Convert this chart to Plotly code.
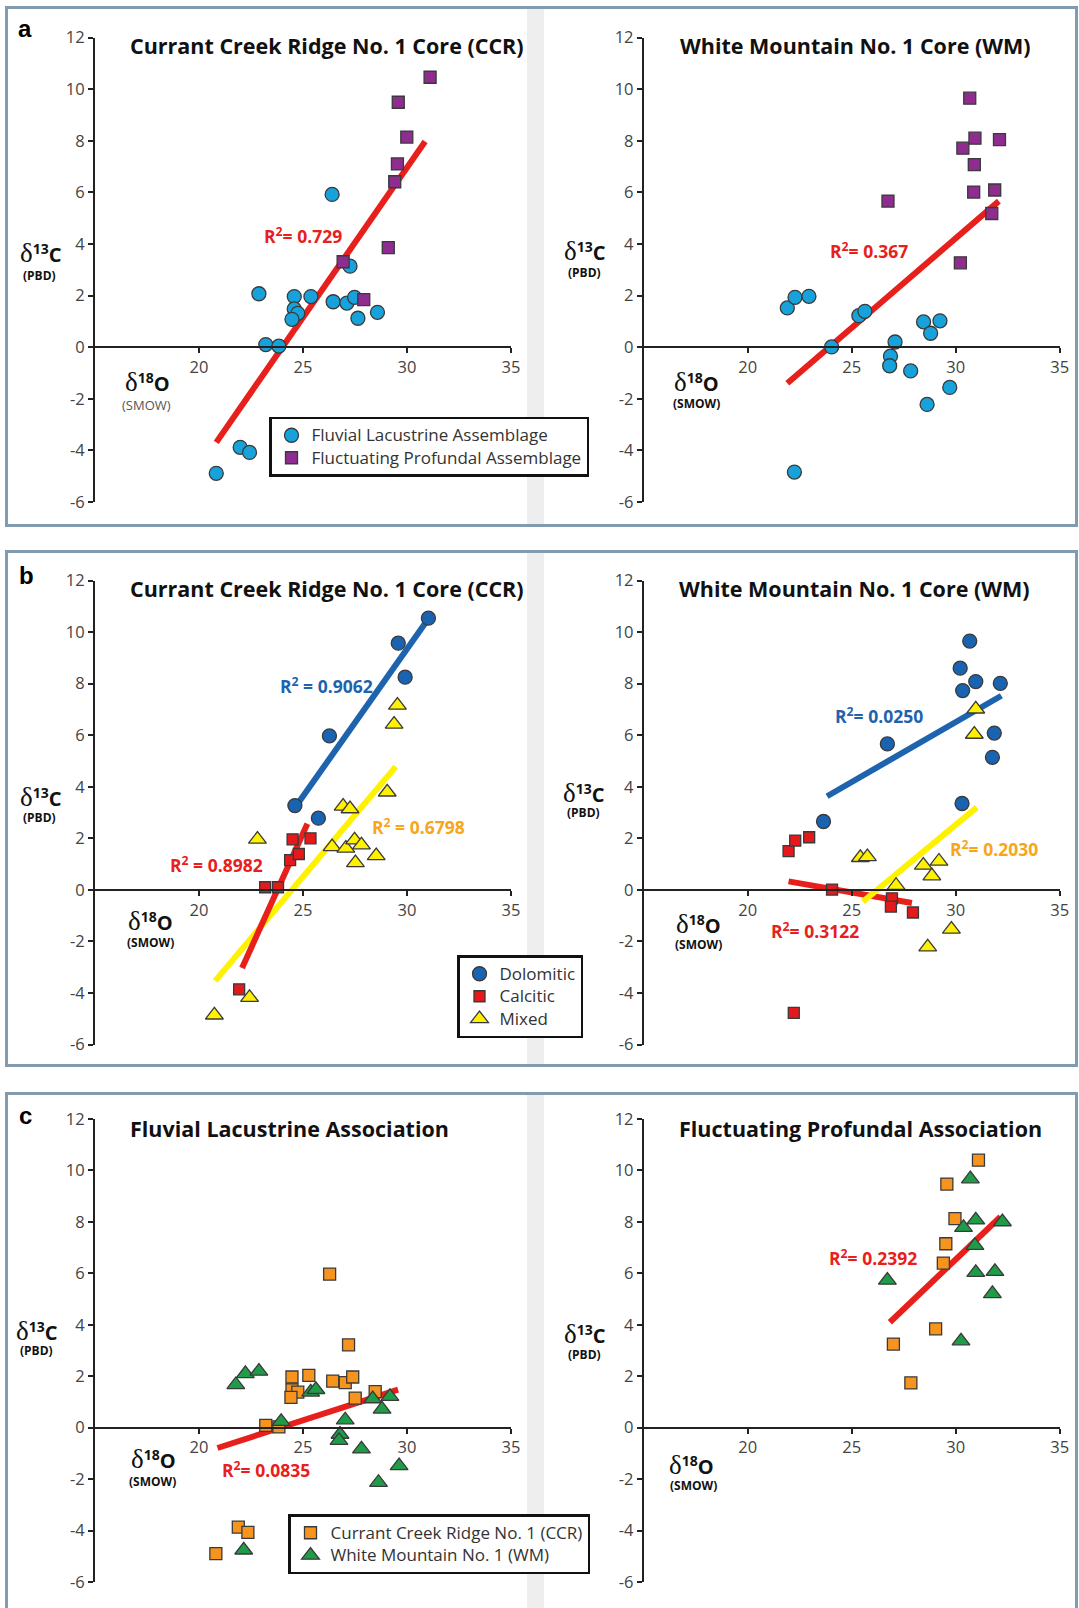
import plotly.graph_objects as go

W, H = 1079, 1608

# ------------------------------------------------------------------ data
# (a) Currant Creek Ridge core (CCR)
a_ccr_fl_x = [26.40, 22.88, 24.58, 25.38, 24.58, 24.75, 24.47, 26.45, 27.11, 27.48, 27.26, 27.64, 28.58, 23.21, 23.84, 21.98, 22.43, 20.83]
a_ccr_fl_y = [5.92, 2.07, 1.96, 1.96, 1.48, 1.31, 1.08, 1.76, 1.71, 1.93, 3.14, 1.12, 1.35, 0.10, 0.04, -3.88, -4.08, -4.89]
a_ccr_fp_x = [31.11, 29.58, 29.99, 29.54, 29.41, 29.10, 26.93, 27.92]
a_ccr_fp_y = [10.46, 9.49, 8.14, 7.10, 6.41, 3.86, 3.31, 1.84]
# (a) White Mountain core (WM)
a_wm_fl_x = [21.90, 22.27, 22.94, 25.34, 25.63, 24.03, 27.08, 26.86, 26.82, 27.83, 28.45, 28.79, 29.24, 28.62, 29.71, 22.24]
a_wm_fl_y = [1.52, 1.93, 1.97, 1.22, 1.39, 0.01, 0.20, -0.35, -0.72, -0.92, 0.98, 0.54, 1.02, -2.22, -1.56, -4.84]
a_wm_fp_x = [30.67, 30.34, 30.92, 32.10, 30.89, 30.86, 31.87, 31.73, 26.74, 30.22]
a_wm_fp_y = [9.65, 7.71, 8.10, 8.04, 7.07, 6.01, 6.09, 5.18, 5.66, 3.27]

# (b) CCR by mineralogy
b_ccr_dol_x = [31.03, 29.58, 29.91, 26.27, 24.61, 25.74]
b_ccr_dol_y = [10.54, 9.57, 8.25, 5.97, 3.27, 2.78]
b_ccr_cal_x = [24.50, 25.36, 24.38, 24.80, 23.18, 23.80, 21.93]
b_ccr_cal_y = [1.96, 2.00, 1.15, 1.39, 0.10, 0.10, -3.86]
b_ccr_mix_x = [29.54, 29.38, 29.05, 26.93, 27.26, 22.81, 26.40, 27.06, 27.48, 27.81, 27.52, 28.52, 22.43, 20.74]
b_ccr_mix_y = [7.16, 6.42, 3.79, 3.24, 3.14, 1.96, 1.67, 1.61, 1.93, 1.74, 1.05, 1.32, -4.18, -4.86]
# (b) WM by mineralogy
b_wm_dol_x = [30.67, 30.21, 30.33, 30.96, 32.14, 26.71, 31.85, 31.76, 30.30, 23.64]
b_wm_dol_y = [9.65, 8.60, 7.73, 8.08, 8.01, 5.66, 6.08, 5.14, 3.35, 2.65]
b_wm_cal_x = [21.96, 22.28, 22.95, 24.05, 26.93, 26.88, 27.94, 22.21]
b_wm_cal_y = [1.50, 1.91, 2.04, 0.01, -0.33, -0.65, -0.88, -4.77]
b_wm_mix_x = [30.96, 30.89, 25.41, 25.75, 28.44, 28.85, 29.19, 27.13, 29.79, 28.65]
b_wm_mix_y = [7.01, 6.03, 1.25, 1.28, 0.95, 0.54, 1.11, 0.17, -1.53, -2.22]

# (c) Fluvial Lacustrine association
c_fl_ccr_x = [26.28, 27.19, 24.47, 25.28, 26.43, 27.03, 27.39, 24.47, 24.75, 24.42, 27.51, 28.47, 23.21, 23.84, 21.89, 22.35, 20.81]
c_fl_ccr_y = [5.97, 3.22, 1.97, 2.03, 1.81, 1.75, 1.97, 1.47, 1.38, 1.18, 1.15, 1.40, 0.09, 0.03, -3.87, -4.07, -4.90]
c_fl_wm_x = [21.77, 22.23, 22.88, 25.37, 25.62, 23.95, 27.03, 26.78, 26.73, 27.81, 28.35, 28.80, 29.18, 28.63, 29.62, 22.15]
c_fl_wm_y = [1.67, 2.10, 2.19, 1.38, 1.48, 0.24, 0.30, -0.26, -0.50, -0.83, 1.12, 0.72, 1.21, -2.13, -1.48, -4.76]
# (c) Fluctuating Profundal association
c_fp_ccr_x = [31.09, 29.57, 29.96, 29.52, 29.40, 29.03, 27.00, 27.84]
c_fp_ccr_y = [10.40, 9.47, 8.13, 7.15, 6.40, 3.84, 3.25, 1.74]
c_fp_wm_x = [30.70, 30.96, 30.37, 32.24, 30.92, 30.96, 31.88, 31.76, 26.71, 30.25]
c_fp_wm_y = [9.67, 8.07, 7.78, 8.00, 7.08, 6.03, 6.07, 5.21, 5.73, 3.37]

# regression (trend) line end points
fit_a_ccr_x, fit_a_ccr_y = [20.83, 30.87], [-3.69, 7.97]
fit_a_wm_x, fit_a_wm_y = [21.90, 32.07], [-1.40, 5.66]
fit_b_ccr_dol_x, fit_b_ccr_dol_y = [24.66, 30.95], [3.24, 10.43]
fit_b_ccr_cal_x, fit_b_ccr_cal_y = [22.07, 25.21], [-3.03, 2.56]
fit_b_ccr_mix_x, fit_b_ccr_mix_y = [20.78, 29.46], [-3.53, 4.78]
fit_b_wm_dol_x, fit_b_wm_dol_y = [23.81, 32.19], [3.63, 7.53]
fit_b_wm_cal_x, fit_b_wm_cal_y = [21.96, 27.89], [0.33, -0.51]
fit_b_wm_mix_x, fit_b_wm_mix_y = [25.53, 31.01], [-0.46, 3.20]
fit_c_fl_x, fit_c_fl_y = [20.89, 29.57], [-0.79, 1.48]
fit_c_fp_x, fit_c_fp_y = [26.83, 32.15], [4.10, 8.20]

# R² labels: (subplot, x, y, text, colour key)
r2_labels = [
    (1, 25.00, 4.33, "R<sup>2</sup>= 0.729", "red"),
    (2, 25.85, 3.74, "R<sup>2</sup>= 0.367", "red"),
    (3, 26.12, 7.92, "R<sup>2</sup> = 0.9062", "blue"),
    (3, 30.53, 2.46, "R<sup>2</sup> = 0.6798", "orange"),
    (3, 20.86, 0.99, "R<sup>2</sup> = 0.8982", "red"),
    (4, 26.29, 6.75, "R<sup>2</sup>= 0.0250", "blue"),
    (4, 31.85, 1.61, "R<sup>2</sup>= 0.2030", "orange"),
    (4, 23.25, -1.56, "R<sup>2</sup>= 0.3122", "red"),
    (5, 23.22, -1.61, "R<sup>2</sup>= 0.0835", "red"),
    (6, 26.00, 6.62, "R<sup>2</sup>= 0.2392", "red"),
]

x_ticks = [20, 25, 30, 35]
y_ticks = [-6, -4, -2, 0, 2, 4, 6, 8, 10, 12]
y_ticktext = ["-6", "-4", "-2", "0", "2", "4", "6", "8", "10", "12"]

titles = {
    1: "Currant Creek Ridge No. 1 Core (CCR)",
    2: "White Mountain No. 1 Core (WM)",
    3: "Currant Creek Ridge No. 1 Core (CCR)",
    4: "White Mountain No. 1 Core (WM)",
    5: "Fluvial Lacustrine Association",
    6: "Fluctuating Profundal Association",
}

# ------------------------------------------------------------------ style
SANS = "Open Sans"
C = dict(cyan="#17a2dc", purple="#8e2c8f", dblue="#1a63b0", red="#e3191c",
         yellow="#fff100", orange="#f7941e", green="#1f9c48")
LINE = dict(red="#e8201c", blue="#1d63ad", yellow="#fff200")
TXT = dict(red="#e8201c", blue="#1d63ad", orange="#f9a51a")
EDGE = dict(color="#3a3a3a", width=1.3)
FRAME = "#819cb0"
TRI = 15.5


def px(x):
    """pixel x -> paper fraction"""
    return x / W


def py(y):
    """pixel y (from top) -> paper fraction"""
    return 1 - y / H


def lname(s):
    # legend entry text is drawn larger than the legend's own (row-height) font
    return f'<span style="font-size:17px">{s}</span>'


# subplot geometry in pixels: (x of x=15, x of x=35, y of y=12, y of y=-6)
geom = {
    1: (95, 511, 37.5, 502.0),
    2: (643.8, 1059.8, 37.5, 502.0),
    3: (95, 511, 580.5, 1044.5),
    4: (643.8, 1059.8, 580.5, 1044.5),
    5: (95, 511, 1119.0, 1582.0),
    6: (643.8, 1059.8, 1119.0, 1582.0),
}

fig = go.Figure()


def ax(k):
    return ("x" if k == 1 else f"x{k}"), ("y" if k == 1 else f"y{k}")


def add_line(k, xs, ys, color):
    xa, ya = ax(k)
    fig.add_trace(go.Scatter(x=xs, y=ys, mode="lines", xaxis=xa, yaxis=ya,
                             line=dict(color=color, width=6), showlegend=False,
                             hoverinfo="skip"))


def add_pts(k, xs, ys, symbol, size, color, name=None, legend=None):
    xa, ya = ax(k)
    fig.add_trace(go.Scatter(x=xs, y=ys, mode="markers", xaxis=xa, yaxis=ya,
                             marker=dict(symbol=symbol, size=size, color=color, line=EDGE),
                             name=lname(name) if name else None, legend=legend,
                             showlegend=name is not None))


# panel a
add_line(1, fit_a_ccr_x, fit_a_ccr_y, LINE["red"])
add_pts(1, a_ccr_fl_x, a_ccr_fl_y, "circle", 14, C["cyan"], "Fluvial Lacustrine Assemblage", "legend")
add_pts(1, a_ccr_fp_x, a_ccr_fp_y, "square", 12, C["purple"], "Fluctuating Profundal Assemblage", "legend")
add_line(2, fit_a_wm_x, fit_a_wm_y, LINE["red"])
add_pts(2, a_wm_fl_x, a_wm_fl_y, "circle", 14, C["cyan"])
add_pts(2, a_wm_fp_x, a_wm_fp_y, "square", 12, C["purple"])

# panel b
add_line(3, fit_b_ccr_mix_x, fit_b_ccr_mix_y, LINE["yellow"])
add_line(3, fit_b_ccr_cal_x, fit_b_ccr_cal_y, LINE["red"])
add_line(3, fit_b_ccr_dol_x, fit_b_ccr_dol_y, LINE["blue"])
add_pts(3, b_ccr_dol_x, b_ccr_dol_y, "circle", 14, C["dblue"], "Dolomitic", "legend2")
add_pts(3, b_ccr_cal_x, b_ccr_cal_y, "square", 11, C["red"], "Calcitic", "legend2")
add_pts(3, b_ccr_mix_x, b_ccr_mix_y, "triangle-up", TRI, C["yellow"], "Mixed", "legend2")
add_line(4, fit_b_wm_cal_x, fit_b_wm_cal_y, LINE["red"])
add_line(4, fit_b_wm_mix_x, fit_b_wm_mix_y, LINE["yellow"])
add_line(4, fit_b_wm_dol_x, fit_b_wm_dol_y, LINE["blue"])
add_pts(4, b_wm_dol_x, b_wm_dol_y, "circle", 14, C["dblue"])
add_pts(4, b_wm_cal_x, b_wm_cal_y, "square", 11, C["red"])
add_pts(4, b_wm_mix_x, b_wm_mix_y, "triangle-up", TRI, C["yellow"])

# panel c
add_line(5, fit_c_fl_x, fit_c_fl_y, LINE["red"])
add_pts(5, c_fl_ccr_x, c_fl_ccr_y, "square", 12, C["orange"], "Currant Creek Ridge No. 1 (CCR)", "legend3")
add_pts(5, c_fl_wm_x, c_fl_wm_y, "triangle-up", TRI, C["green"], "White Mountain No. 1 (WM)", "legend3")
add_line(6, fit_c_fp_x, fit_c_fp_y, LINE["red"])
add_pts(6, c_fp_ccr_x, c_fp_ccr_y, "square", 12, C["orange"])
add_pts(6, c_fp_wm_x, c_fp_wm_y, "triangle-up", TRI, C["green"])

# ------------------------------------------------------------------ axes
layout_axes = {}
for k, (x0, x1, yt, yb) in geom.items():
    y0pix = yt + (12 / 18) * (yb - yt)
    xname = "xaxis" if k == 1 else f"xaxis{k}"
    yname = "yaxis" if k == 1 else f"yaxis{k}"
    xa, ya = ax(k)
    layout_axes[xname] = dict(
        domain=[px(x0), px(x1)], range=[15, 35], anchor="free", position=py(y0pix),
        tickvals=x_ticks, ticks="outside", ticklen=5, tickwidth=1.5, tickcolor="#222",
        showline=True, linecolor="#222", linewidth=2, showgrid=False, zeroline=False,
        tickfont=dict(family=SANS, size=16.5, color="#444"), fixedrange=True,
        automargin=False,
    )
    layout_axes[yname] = dict(
        domain=[py(yb), py(yt)], range=[-6, 12], anchor=xa,
        tickvals=y_ticks, ticktext=y_ticktext, ticks="outside", ticklen=5, tickwidth=1.5,
        tickcolor="#222", showline=True, linecolor="#222", linewidth=2, showgrid=False,
        zeroline=False, tickfont=dict(family=SANS, size=16.5, color="#444"), fixedrange=True,
        automargin=False,
    )

# ------------------------------------------------------------------ frames and strips
shapes = []
panels = [(7.5, 525.5), (551.5, 1065.5), (1093.5, 1640)]
for (t, b) in panels:
    shapes.append(dict(type="rect", xref="paper", yref="paper", x0=px(527), x1=px(544),
                       y0=py(b), y1=py(t), fillcolor="#eeeeee", line=dict(width=0), layer="below"))
    shapes.append(dict(type="rect", xref="paper", yref="paper", x0=px(6.5), x1=px(1076.5),
                       y0=py(b), y1=py(t), line=dict(color=FRAME, width=3), layer="below"))

# ------------------------------------------------------------------ annotations
ann = []


def txt(x, y, text, size, color="#111", family=SANS, xanchor="center", bold=False):
    ann.append(dict(xref="paper", yref="paper", x=px(x), y=py(y), text=text, showarrow=False,
                    xanchor=xanchor, yanchor="middle",
                    font=dict(family=family, size=size, color=color,
                              weight="bold" if bold else "normal")))


for lbl, (x, y) in zip("abc", [(25, 29), (26, 575), (25, 1115)]):
    txt(x, y, lbl, 24, "#000", "Liberation Sans", bold=True)

title_pos = {1: (128, 45.5), 2: (678, 45.5), 3: (128, 588), 4: (677, 588), 5: (128, 1128), 6: (677, 1128)}
for k, (x, y) in title_pos.items():
    txt(x, y, titles[k], 21.5, "#111", xanchor="left", bold=True)

delta = '<span style="font-family:Liberation Serif;font-size:27px;font-weight:normal">δ</span>'
d13 = delta + "<b><sup>13</sup>C</b>"
d18 = delta + "<b><sup>18</sup>O</b>"
ylab_pos = {1: ((41, 253), (39, 275)), 2: ((585, 251), (584, 272)),
            3: ((41, 797), (39, 817)), 4: ((584, 793), (583, 812)),
            5: ((37, 1331), (36, 1350)), 6: ((585, 1334), (584, 1354))}
xlab_pos = {1: ((147, 382), (146, 405)), 2: ((696, 382), (696, 403)),
            3: ((150, 921), (150, 942)), 4: ((698, 924), (698, 944)),
            5: ((153, 1459), (152, 1481)), 6: ((691, 1465), (693, 1485))}
for k in geom:
    (dx, dy), (sx, sy) = ylab_pos[k]
    txt(dx, dy, d13, 20, "#111")
    txt(sx, sy, "(PBD)", 12, "#111", bold=True)
    (dx, dy), (sx, sy) = xlab_pos[k]
    txt(dx, dy, d18, 20, "#111")
    if k == 1:
        txt(sx, sy, "(SMOW)", 13, "#555", bold=False)
    else:
        txt(sx, sy, "(SMOW)", 12, "#111", bold=True)

for k, x, y, text, col in r2_labels:
    xa, ya = ax(k)
    ann.append(dict(xref=xa, yref=ya, x=x, y=y, text=text, showarrow=False,
                    xanchor="center", yanchor="middle",
                    font=dict(family=SANS, size=17.5, color=TXT[col], weight="bold")))

legend_style = dict(bgcolor="white", bordercolor="#111", borderwidth=2.5,
                    font=dict(family=SANS, size=15, color="#333"),
                    xanchor="left", yanchor="top", itemclick=False, itemdoubleclick=False)

fig.update_layout(
    width=W, height=H, autosize=False,
    margin=dict(l=0, r=0, t=0, b=0, pad=0, autoexpand=False),
    paper_bgcolor="white", plot_bgcolor="rgba(0,0,0,0)",
    shapes=shapes, annotations=ann,
    legend=dict(x=px(269), y=py(416.5), **legend_style),
    legend2=dict(x=px(457), y=py(955), **legend_style),
    legend3=dict(x=px(288), y=py(1514), **legend_style),
    **layout_axes,
)

fig.write_html("out.html", include_plotlyjs=True,
               post_script="document.body.style.margin='0';",
               config={"displayModeBar": False})
